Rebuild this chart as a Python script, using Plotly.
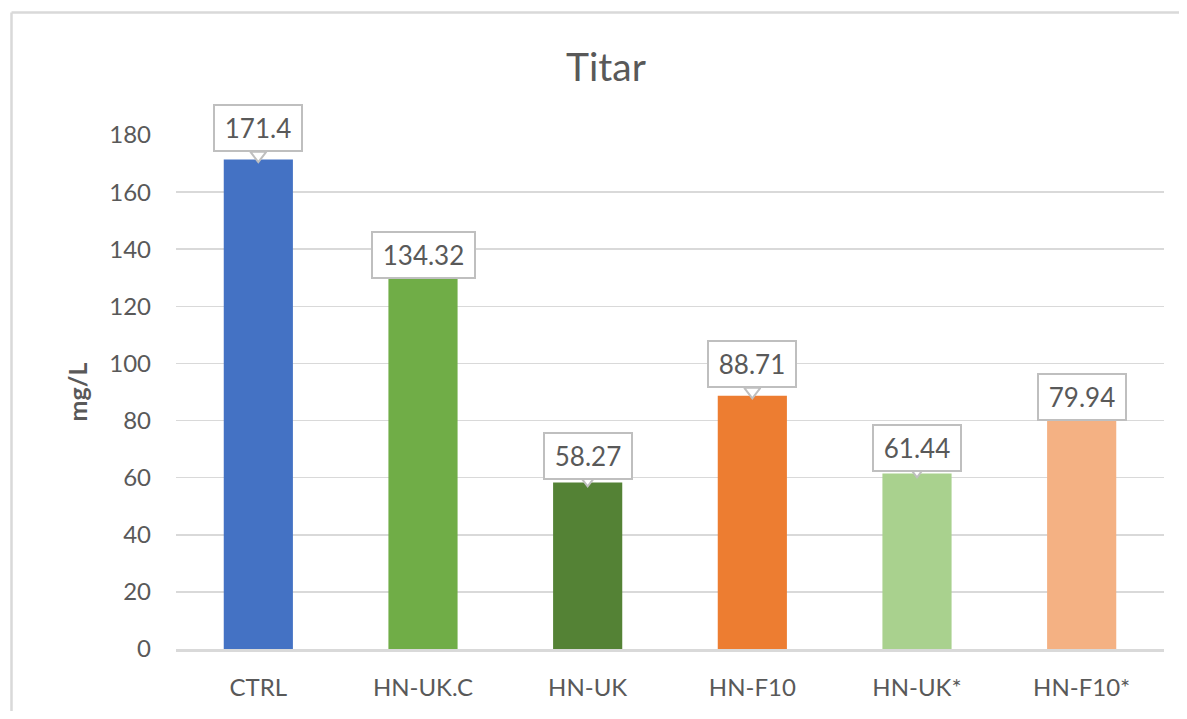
import plotly.graph_objects as go

categories = ["CTRL", "HN-UK.C", "HN-UK", "HN-F10", "HN-UK*", "HN-F10*"]
values = [171.4, 134.32, 58.27, 88.71, 61.44, 79.94]
labels = ["171.4", "134.32", "58.27", "88.71", "61.44", "79.94"]
colors = ["#4472C4", "#70AD47", "#548235", "#ED7D31", "#A9D18E", "#F4B183"]
# label box vertical offset (px) of box bottom relative to bar top; pointer shown?
label_shift = [8, -14, 3, 8, 2, 0]
has_pointer = [True, False, True, True, True, False]

# page offset (browser body margin)
OFF = 8
W, H = 1187 - 2 * OFF, 719 - 2 * OFF
ML, MT = 176 - OFF, 135 - OFF
MR = 1187 - 1164 - OFF
MB = 719 - 649 - OFF
YMAX = 180
px_per_unit = (H - MT - MB) / YMAX

font_family = "Lato, 'Open Sans', sans-serif"
gray_text = "#595959"

fig = go.Figure()
fig.add_trace(go.Bar(
    x=categories, y=values, marker=dict(color=colors, line=dict(width=0)),
    width=0.42, hoverinfo="skip", showlegend=False,
))

# callout pointers
px_, py_ = [], []
for c, v, s, p in zip(categories, values, label_shift, has_pointer):
    if p:
        px_.append(c)
        py_.append(v + (max(s, 6) * 0.55) / px_per_unit)
fig.add_trace(go.Scatter(
    x=px_, y=py_, mode="markers", showlegend=False, hoverinfo="skip",
    marker=dict(symbol="triangle-down", size=14, color="white",
                line=dict(color="#bfbfbf", width=2)),
    cliponaxis=False,
))

for c, v, t, s in zip(categories, values, labels, label_shift):
    fig.add_annotation(
        x=c, y=v, text=t, showarrow=False, yanchor="bottom", yshift=s,
        font=dict(family=font_family, size=26, color=gray_text),
        bgcolor="white", bordercolor="#bfbfbf", borderwidth=2, borderpad=6,
        width=15 * len(t) - 1, height=32,
    )

# outer chart border (top and left edges visible in the crop)
pw = W - ML - MR
ph = H - MT - MB
bx0 = (11.5 - OFF - ML) / pw
by1 = (H - MB - (12.5 - OFF)) / ph
border = dict(color="#d9d9d9", width=2.5)
fig.add_shape(type="line", xref="paper", yref="paper", layer="above",
              x0=bx0, x1=(W - ML) / pw, y0=by1, y1=by1, line=border)
fig.add_shape(type="line", xref="paper", yref="paper", layer="above",
              x0=bx0, x1=bx0, y0=by1, y1=-MB / ph, line=border)

fig.update_layout(
    width=W, height=H, autosize=False,
    margin=dict(l=ML, r=MR, t=MT, b=MB, pad=0, autoexpand=False),
    paper_bgcolor="white", plot_bgcolor="white",
    font=dict(family=font_family, color=gray_text, size=25),
    title=dict(text="Titar", xref="container", yref="container",
               x=(606 - OFF) / W, y=1 - (67 - OFF) / H,
               xanchor="center", yanchor="middle",
               font=dict(size=39, color=gray_text, family=font_family)),
    xaxis=dict(
        type="category", showgrid=False, showline=True, linecolor="#d9d9d9",
        linewidth=2.5, ticks="", ticklabelstandoff=16, automargin=False,
        tickfont=dict(size=24, color=gray_text), fixedrange=True,
    ),
    yaxis=dict(
        range=[0, YMAX], dtick=20, tick0=0, showgrid=True,
        gridcolor="#d9d9d9", gridwidth=1.5, zeroline=False, showline=False,
        ticks="", ticklabelstandoff=24, automargin=False,
        tickfont=dict(size=24, color=gray_text),
        title=dict(text="<b>mg/L</b>", standoff=14,
                   font=dict(size=25, color=gray_text)),
        fixedrange=True,
    ),
)

fig.write_html("out.html", config={"displayModeBar": False, "staticPlot": True})
